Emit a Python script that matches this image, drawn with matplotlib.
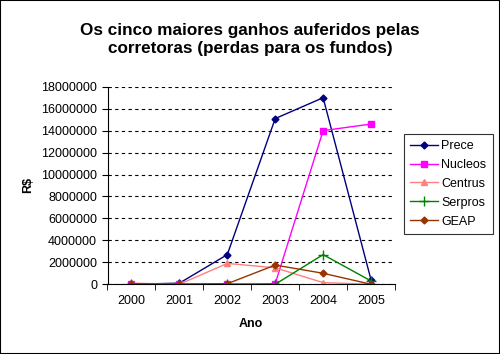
import matplotlib
matplotlib.use('Agg')
import matplotlib.pyplot as plt
from matplotlib.patches import Rectangle

plt.rcParams['font.family'] = ['Liberation Sans', 'DejaVu Sans']

anos = ['2000', '2001', '2002', '2003', '2004', '2005']
prece = [0, 100000, 2700000, 15100000, 17000000, 400000]
nucleos = [0, 0, 0, 50000, 14000000, 14600000]
centrus = [100000, 0, 1900000, 1500000, 150000, 0]
serpros = [0, 0, 0, 0, 2700000, 300000]
geap = [50000, 0, 50000, 1750000, 1000000, 0]

series = [
    ('Prece', prece, '#000080', 'D', 3.5),
    ('Nucleos', nucleos, '#FF00FF', 's', 4.5),
    ('Centrus', centrus, '#FF8080', '^', 5),
    ('Serpros', serpros, '#008000', '+', 7),
    ('GEAP', geap, '#993300', 'D', 3.5),
]

fig = plt.figure(figsize=(5.0, 3.54), dpi=100)
fig.patches.append(Rectangle((0, 0), 1, 1, transform=fig.transFigure,
                             fill=False, edgecolor='black', linewidth=1.5))
ax = fig.add_axes([0.215, 0.197, 0.575, 0.558])

x = list(range(len(anos)))
for nome, vals, cor, mk, ms in series:
    ax.plot(x, vals, color=cor, marker=mk, markersize=ms, linewidth=1,
            label=nome, markeredgewidth=1)

ax.set_xlim(-0.5, len(anos) - 0.5)
ax.set_ylim(0, 18000000)
ax.set_yticks(range(0, 18000001, 2000000))
ax.set_yticklabels([str(v) for v in range(0, 18000001, 2000000)], fontsize=9)
ax.set_xticks(x)
ax.set_xticklabels(anos, fontsize=9)
ax.set_xticks([i + 0.5 for i in range(-1, len(anos))], minor=True)
ax.tick_params(axis='x', which='major', length=0, pad=8)
ax.tick_params(axis='x', which='minor', length=4, direction='out')
ax.tick_params(axis='y', length=4, direction='out')
ax.yaxis.grid(True, linestyle=(0, (3, 3)), color='black', linewidth=0.8)
ax.set_axisbelow(True)
for s in ['top', 'right']:
    ax.spines[s].set_visible(False)

ax.set_xlabel('Ano', fontsize=9, fontweight='bold', labelpad=8)
ax.set_ylabel('R$', fontsize=9, fontweight='bold', labelpad=5)
fig.suptitle('Os cinco maiores ganhos auferidos pelas\ncorretoras (perdas para os fundos)',
             fontsize=12.3, fontweight='bold', y=0.935, linespacing=1.25)

leg = fig.legend(loc='upper left', bbox_to_anchor=(0.808, 0.622), fontsize=9,
                 frameon=True, fancybox=False, edgecolor='black',
                 handlelength=2.2, borderpad=0.5, labelspacing=0.55, handletextpad=0.3,
                 borderaxespad=0)
leg.get_frame().set_linewidth(0.8)

fig.savefig('out.png', dpi=100)
